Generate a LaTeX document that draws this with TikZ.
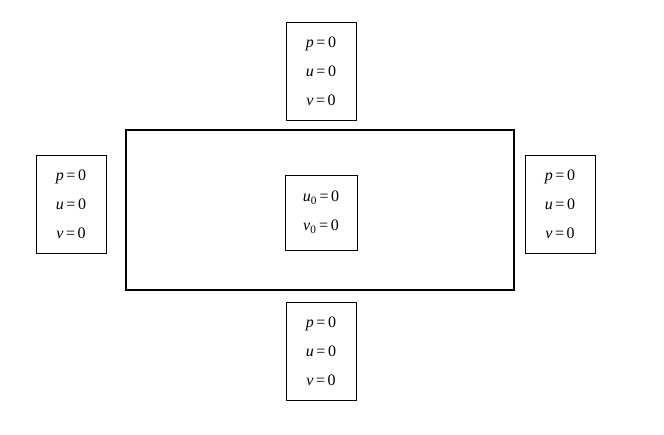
\documentclass[tikz,border=0pt]{standalone}
\usepackage{fontspec}
\setmainfont{Liberation Serif}
\newcommand{\eqz}[1]{{\itshape #1}\,=\,0}
\begin{document}
\begin{tikzpicture}[x=1pt, y=-1pt,
    cond/.style={draw, thin, minimum width=70pt, minimum height=98pt, align=center,
      font=\fontsize{16}{29}\selectfont, inner sep=0pt}]
  \useasboundingbox (0,0) rectangle (664,435);
  % domain
  \draw[line width=1.8pt] (126,130) rectangle (514,290);
  % boundary conditions
  \node[cond] (top) at (321,71) {\eqz{p}\\ \eqz{u}\\ \eqz{v}};
  \node[cond] (bottom) at (321,351) {\eqz{p}\\ \eqz{u}\\ \eqz{v}};
  \node[cond] (left) at (71,204.5) {\eqz{p}\\ \eqz{u}\\ \eqz{v}};
  \node[cond] (right) at (560,204.5) {\eqz{p}\\ \eqz{u}\\ \eqz{v}};
  % initial condition
  \node[cond, minimum width=72pt, minimum height=75pt] (init) at (321,212.5)
    {{\itshape u}\textsubscript{0}\,=\,0\\ {\itshape v}\textsubscript{0}\,=\,0};
\end{tikzpicture}
\end{document}
